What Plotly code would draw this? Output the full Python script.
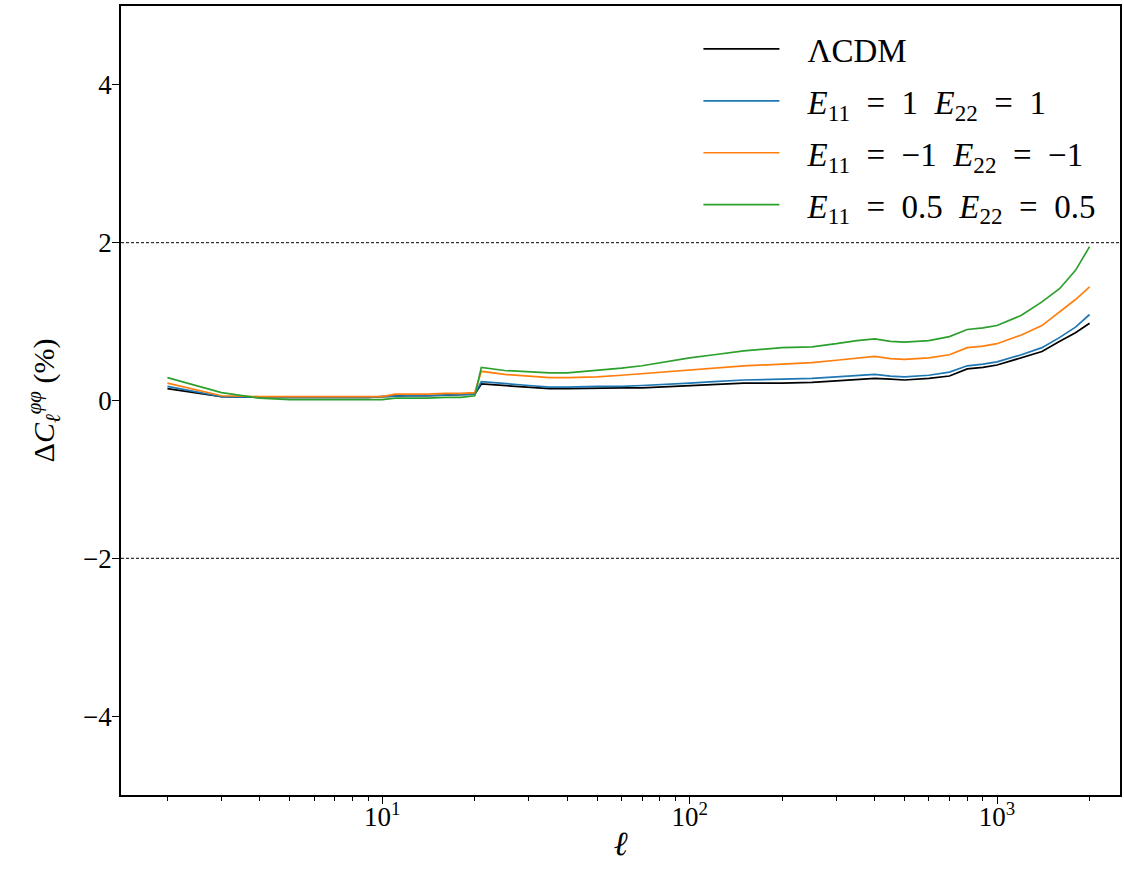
import plotly.graph_objects as go

ell = [2, 3, 4, 5, 6, 7, 8, 9, 10, 11, 12, 14, 16, 18, 20, 21, 25, 30, 35, 40,
       50, 60, 70, 80, 100, 120, 150, 200, 250, 300, 350, 400, 450, 500, 600,
       700, 800, 900, 1000, 1200, 1400, 1600, 1800, 2000]

lcdm = [0.15, 0.05, 0.04, 0.04, 0.04, 0.04, 0.04, 0.04, 0.05, 0.06, 0.06, 0.06,
        0.07, 0.07, 0.08, 0.21, 0.19, 0.17, 0.15, 0.15, 0.16, 0.16, 0.16, 0.17,
        0.19, 0.20, 0.22, 0.22, 0.23, 0.25, 0.27, 0.28, 0.27, 0.26, 0.28, 0.31,
        0.40, 0.42, 0.45, 0.54, 0.62, 0.75, 0.86, 0.98]
e_p1 = [0.18, 0.05, 0.04, 0.04, 0.04, 0.04, 0.04, 0.04, 0.05, 0.06, 0.06, 0.06,
        0.07, 0.07, 0.08, 0.24, 0.22, 0.19, 0.17, 0.17, 0.18, 0.18, 0.19, 0.20,
        0.22, 0.24, 0.26, 0.27, 0.28, 0.30, 0.32, 0.33, 0.31, 0.30, 0.32, 0.36,
        0.44, 0.46, 0.49, 0.58, 0.67, 0.80, 0.93, 1.09]
e_m1 = [0.22, 0.06, 0.05, 0.05, 0.05, 0.05, 0.05, 0.05, 0.05, 0.08, 0.08, 0.08,
        0.09, 0.09, 0.10, 0.37, 0.33, 0.31, 0.29, 0.29, 0.30, 0.32, 0.34, 0.36,
        0.38, 0.41, 0.44, 0.46, 0.48, 0.51, 0.54, 0.56, 0.53, 0.52, 0.54, 0.58,
        0.67, 0.69, 0.72, 0.83, 0.95, 1.12, 1.28, 1.44]
e_05 = [0.29, 0.10, 0.03, 0.01, 0.01, 0.01, 0.01, 0.01, 0.01, 0.03, 0.03, 0.03,
        0.04, 0.04, 0.06, 0.42, 0.38, 0.36, 0.35, 0.35, 0.38, 0.41, 0.44, 0.48,
        0.54, 0.58, 0.63, 0.67, 0.68, 0.72, 0.76, 0.78, 0.75, 0.74, 0.76, 0.81,
        0.90, 0.92, 0.95, 1.08, 1.25, 1.42, 1.65, 1.95]

GAP = "\u2002\u2009"
EQ = "\u2002=\u2002"
SP = "\u2002"
series = [
    ("ΛCDM", lcdm, "black"),
    (f"<i>E</i><sub>11</sub>{EQ}1{SP}<i>E</i><sub>22</sub>{EQ}1", e_p1, "#1f77b4"),
    (f"<i>E</i><sub>11</sub>{EQ}−1{SP}<i>E</i><sub>22</sub>{EQ}−1", e_m1, "#ff7f0e"),
    (f"<i>E</i><sub>11</sub>{EQ}0.5{SP}<i>E</i><sub>22</sub>{EQ}0.5", e_05, "#2ca02c"),
]

y_ticks = [-4, -2, 0, 2, 4]
y_ticktext = ["−4", "−2", "0", "2", "4"]
x_ticks = [10, 100, 1000]
x_ticktext = ["10<sup>1</sup>", "10<sup>2</sup>", "10<sup>3</sup>"]
minor_vals = [m * 10 ** k for k in range(0, 4) for m in range(2, 10)]

FONT = "Liberation Serif"

fig = go.Figure()
for i, (name, vals, col) in enumerate(series):
    fig.add_trace(go.Scatter(x=ell, y=vals, mode="lines", name=GAP + name,
                             legendgroup=f"g{i}",
                             line=dict(color=col, width=1.7)))

for yv in (2, -2):
    fig.add_hline(y=yv, line=dict(color="black", width=1, dash="3px,2px"))

fig.update_layout(
    width=1124, height=874,
    margin=dict(l=121, r=4, t=6, b=79, autoexpand=False),
    paper_bgcolor="white", plot_bgcolor="white",
    font=dict(family=FONT, size=28, color="black"),
    showlegend=True,
    legend=dict(x=0.578, y=0.981, xanchor="left", yanchor="top",
                bgcolor="rgba(0,0,0,0)", font=dict(size=33, family=FONT),
                tracegroupgap=6, itemwidth=76),
)
fig.update_xaxes(
    type="log", range=[0.150, 3.40], automargin=False,
    tickmode="array", tickvals=x_ticks, ticktext=x_ticktext,
    ticks="outside", ticklen=7, tickwidth=1, tickcolor="black",
    ticklabelstandoff=-10,
    minor=dict(tickmode="array", tickvals=minor_vals, ticks="outside",
               ticklen=4, tickwidth=1, tickcolor="black", showgrid=False),
    showgrid=False, zeroline=False,
    showline=True, linecolor="black", linewidth=1.5, mirror=True,
    tickfont=dict(size=27),
    title=dict(text="<i>ℓ</i>", font=dict(size=34), standoff=0),
)
fig.update_yaxes(
    range=[-5, 5], automargin=False,
    tickmode="array", tickvals=y_ticks, ticktext=y_ticktext,
    ticks="outside", ticklen=7, tickwidth=1, tickcolor="black",
    ticklabelstandoff=-5,
    showgrid=False, zeroline=False,
    showline=True, linecolor="black", linewidth=1.5, mirror=True,
    tickfont=dict(size=27),
    title=dict(text="Δ<i>C</i><sub><i>ℓ</i></sub><sup><i>φφ</i></sup> (%)",
               font=dict(size=30), standoff=20),
)

fig.write_html("out.html", config={"displayModeBar": False},
               post_script="document.body.style.margin='0';document.body.style.padding='0';")
